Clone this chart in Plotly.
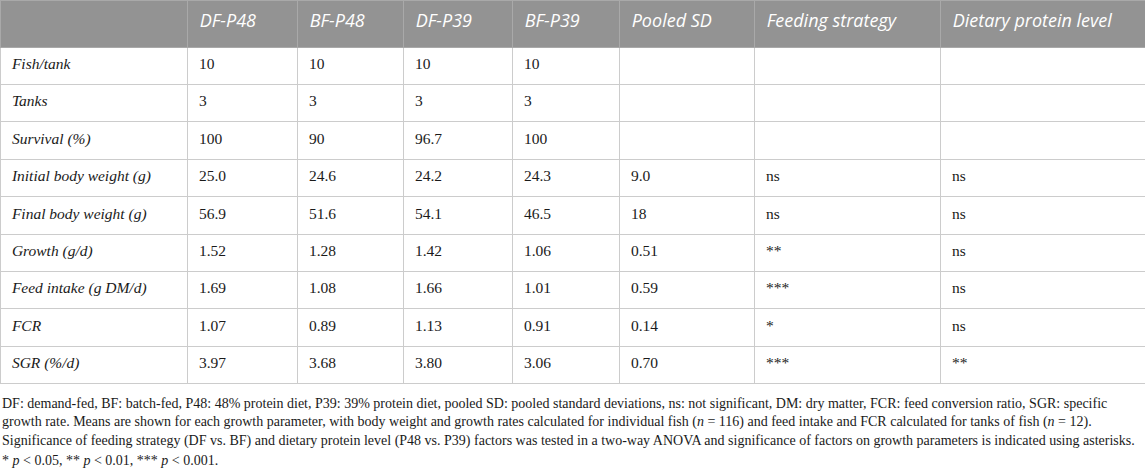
import plotly.graph_objects as go

W, H = 1145, 468

# table content
headers = ["", "DF-P48", "BF-P48", "DF-P39", "BF-P39", "Pooled SD",
           "Feeding strategy", "Dietary protein level"]
row_labels = ["Fish/tank", "Tanks", "Survival (%)", "Initial body weight (g)",
              "Final body weight (g)", "Growth (g/d)", "Feed intake (g DM/d)",
              "FCR", "SGR (%/d)"]
df_p48 = ["10", "3", "100", "25.0", "56.9", "1.52", "1.69", "1.07", "3.97"]
bf_p48 = ["10", "3", "90", "24.6", "51.6", "1.28", "1.08", "0.89", "3.68"]
df_p39 = ["10", "3", "96.7", "24.2", "54.1", "1.42", "1.66", "1.13", "3.80"]
bf_p39 = ["10", "3", "100", "24.3", "46.5", "1.06", "1.01", "0.91", "3.06"]
pooled_sd = ["", "", "", "9.0", "18", "0.51", "0.59", "0.14", "0.70"]
feeding = ["", "", "", "ns", "ns", "**", "***", "*", "***"]
protein = ["", "", "", "ns", "ns", "ns", "ns", "ns", "**"]

footnote = [
    "DF: demand-fed, BF: batch-fed, P48: 48% protein diet, P39: 39% protein diet, pooled SD: pooled standard deviations, "
    "ns: not significant, DM: dry matter, FCR: feed conversion ratio, SGR: specific",
    "growth rate. Means are shown for each growth parameter, with body weight and growth rates calculated for individual fish "
    "(<i>n</i> = 116) and feed intake and FCR calculated for tanks of fish (<i>n</i> = 12).",
    "Significance of feeding strategy (DF vs. BF) and dietary protein level (P48 vs. P39) factors was tested in a two-way ANOVA "
    "and significance of factors on growth parameters is indicated using asterisks.",
    "* <i>p</i> < 0.05, ** <i>p</i> < 0.01, *** <i>p</i> < 0.001.",
]

col_widths = [187, 110, 106, 109, 107, 135, 186, 205]
header_h = 47
row_h = 37.4
table_h = header_h + row_h * len(row_labels) + 1

grid = "#cccccc"


def pad(vals, italic=False):
    # small lead-in so text sits a little further from the cell border
    out = []
    for v in vals:
        if v == "":
            out.append("")
        elif italic:
            out.append("&nbsp;<i>" + v + "</i>")
        else:
            out.append("&nbsp;" + v)
    return out


cells = [pad(row_labels, True), pad(df_p48), pad(bf_p48), pad(df_p39), pad(bf_p39),
         pad(pooled_sd), pad(feeding), pad(protein)]

fig = go.Figure(go.Table(
    columnwidth=col_widths,
    domain=dict(x=[0, 1], y=[1 - table_h / H, 1]),
    header=dict(
        values=pad(headers, True),
        fill_color="#939393",
        line_color="#a9a9a9",
        align="left",
        height=header_h,
        font=dict(family="Open Sans", size=18, color="white"),
    ),
    cells=dict(
        values=cells,
        fill_color="white",
        line_color=grid,
        align="left",
        height=row_h,
        font=dict(family="Liberation Serif", size=15.5, color="#1a1a1a"),
    ),
))

line_y = [403, 422, 441, 460]
for txt, yy in zip(footnote, line_y):
    fig.add_annotation(
        text=txt, xref="paper", yref="paper", x=0, y=1 - yy / H,
        xanchor="left", yanchor="middle", showarrow=False,
        font=dict(family="Liberation Serif", size=14, color="#1a1a1a"),
    )

fig.update_layout(
    width=W, height=H,
    margin=dict(l=0, r=0, t=0, b=0),
    paper_bgcolor="white",
)

# drop the default page margin so the figure sits at the window corner
fig.write_html("out.html", config={"displayModeBar": False},
               post_script="document.body.style.margin='0';")
